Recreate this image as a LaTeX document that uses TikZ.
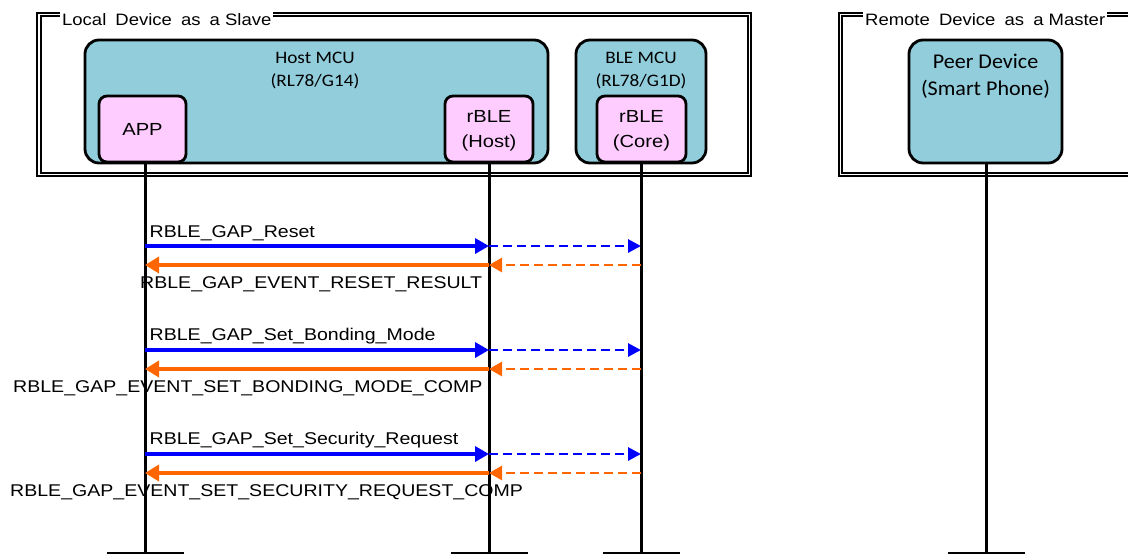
\documentclass[tikz,border=0pt]{standalone}
\usepackage{fontspec}
\setmainfont{Liberation Sans}
\newfontfamily\labfnt[FakeStretch=1.15]{Liberation Sans}
\newfontfamily\ttlfnt[FakeStretch=1.12]{Liberation Sans}
\newfontfamily\mcufnt[FakeStretch=1.1]{Carlito}
\newfontfamily\peerfnt[FakeStretch=1.05]{Carlito}
\usetikzlibrary{arrows.meta}
\definecolor{mcu}{HTML}{92CDDC}
\definecolor{sw}{HTML}{FFCCFF}
\definecolor{req}{HTML}{0000FF}
\definecolor{rsp}{HTML}{FF6600}
\begin{document}
\begin{tikzpicture}[x=1pt,y=-1pt,
  mcubox/.style={draw, line width=2.8pt, fill=mcu, rounded corners=14pt, inner sep=0pt},
  swbox/.style={draw, line width=2.8pt, fill=sw, rounded corners=8pt, inner sep=0pt},
  swtext/.style={align=center, inner sep=0pt, font=\labfnt\fontsize{17.5}{25}\selectfont},
  mcutext/.style={align=center, inner sep=0pt, font=\mcufnt\fontsize{17.5}{22}\selectfont},
  frame/.style={draw, double, line width=1.7pt, double distance=1.9pt},
  frametitle/.style={fill=white, anchor=west, inner xsep=2pt, inner ysep=1pt, font=\ttlfnt\fontsize{16.5}{18}\selectfont},
  life/.style={line width=3pt},
  bar/.style={line width=2.5pt},
  callsolid/.style={req, line width=4.5pt, -{Triangle[length=14pt,width=15pt]}},
  calldash/.style={req, line width=2.8pt, dash pattern=on 9pt off 5pt, -{Triangle[length=13pt,width=13pt]}},
  rspsolid/.style={rsp, line width=4.5pt, -{Triangle[length=14pt,width=16pt]}},
  rspdash/.style={rsp, line width=2.8pt, dash pattern=on 9pt off 5pt, -{Triangle[length=13pt,width=14pt]}},
  msg/.style={anchor=base west, inner sep=0pt, font=\labfnt\fontsize{17}{20}\selectfont}
]
\useasboundingbox (0,0) rectangle (1128,555);
\clip (0,0) rectangle (1128,555);

% frames
\draw[frame] (39,14.5) rectangle (749.5,174.5);
\draw[frame] (840.5,14.5) rectangle (1145,174.5);
\node[frametitle] (ltitle) at (60,19.5) {Local\hspace{4pt} Device\hspace{4pt} as\hspace{4pt} a Slave};
\node[frametitle] (rtitle) at (863,19.5) {Remote\hspace{4pt} Device\hspace{4pt} as\hspace{4pt} a Master};

% MCU boxes
\node[mcubox, minimum width=463pt, minimum height=123pt] (host) at (316.5,101.5) {};
\node[mcutext] (hosttxt) at (315,70.5) {Host MCU\\[1pt](RL78/G14)};
\node[mcubox, minimum width=130pt, minimum height=123pt] (ble) at (641,101.5) {};
\node[mcutext] (bletxt) at (641,70.5) {BLE MCU\\[1pt](RL78/G1D)};
\node[mcubox, minimum width=153pt, minimum height=123pt] (peer) at (985.5,101.5) {};
\node[align=center, inner sep=0pt, font=\peerfnt\fontsize{21}{27}\selectfont] (peertxt) at (985.5,76) {Peer Device\\(Smart Phone)};

% software boxes
\node[swbox, minimum width=87pt, minimum height=66pt] (app) at (142.5,129) {};
\node[swtext] (apptxt) at (142.5,129.5) {APP};
\node[swbox, minimum width=88pt, minimum height=66pt] (rhost) at (489,129) {};
\node[swtext] (rhosttxt) at (489,131) {rBLE\\(Host)};
\node[swbox, minimum width=89pt, minimum height=66pt] (rcore) at (641.5,129) {};
\node[swtext] (rcoretxt) at (641.5,131) {rBLE\\(Core)};

% lifelines
\coordinate (append) at (145,553);
\coordinate (hostend) at (489,553);
\coordinate (coreend) at (641,553);
\coordinate (peerend) at (986,553);
\draw[life] (append |- app.south) -- (append);
\draw[life] (hostend |- rhost.south) -- (hostend);
\draw[life] (coreend |- rcore.south) -- (coreend);
\draw[life] (peerend |- peer.south) -- (peerend);
\foreach \e in {append,hostend,coreend,peerend}
  \draw[bar] ([xshift=-38.5pt]\e) -- ([xshift=38.5pt]\e);

% messages
\foreach \n/\yb/\yo in {1/246/265, 2/350/369, 3/454/473} {
  \coordinate (a\n) at (145,\yb);
  \coordinate (h\n) at (489,\yb);
  \coordinate (c\n) at (641,\yb);
  \coordinate (ar\n) at (145,\yo);
  \coordinate (hr\n) at (489,\yo);
  \coordinate (cr\n) at (641,\yo);
  \draw[callsolid] (a\n) -- (h\n);
  \draw[calldash] (h\n) -- (c\n);
  \draw[rspdash] (cr\n) -- (hr\n);
  \draw[rspsolid] (hr\n) -- (ar\n);
}
\node[msg] (m1) at (149.5,237) {RBLE\_GAP\_Reset};
\node[msg] (r1) at (140,288) {RBLE\_GAP\_EVENT\_RESET\_RESULT};
\node[msg] (m2) at (149.5,340.5) {RBLE\_GAP\_Set\_Bonding\_Mode};
\node[msg] (r2) at (13,392) {RBLE\_GAP\_EVENT\_SET\_BONDING\_MODE\_COMP};
\node[msg] (m3) at (149.5,444) {RBLE\_GAP\_Set\_Security\_Request};
\node[msg] (r3) at (10,496) {RBLE\_GAP\_EVENT\_SET\_SECURITY\_REQUEST\_COMP};
\end{tikzpicture}
\end{document}
